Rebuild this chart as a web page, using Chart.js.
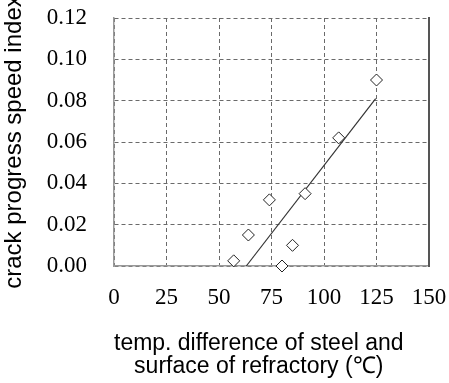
<!DOCTYPE html>
<html>
<head>
<meta charset="utf-8">
<script src="https://cdn.jsdelivr.net/npm/chart.js@4"></script>
<style>
  html, body { margin: 0; padding: 0; background: #fff; }
  #wrap { width: 449px; height: 383px; }
</style>
</head>
<body>
<div id="wrap"><canvas id="c" width="449" height="383"></canvas></div>
<script>
// Measured points (temp. difference °C, crack progress speed index)
const tempDiff = [57, 64, 74, 80, 85, 91, 107, 125];
const crackIndex = [0.0025, 0.015, 0.032, 0.0, 0.010, 0.035, 0.062, 0.090];
// Regression line end points
const trendX = [63, 124.6];
const trendY = [0.0, 0.081];
// Axis ticks
const xTicks = [0, 25, 50, 75, 100, 125, 150];
const yTicks = [0.00, 0.02, 0.04, 0.06, 0.08, 0.10, 0.12];
const xTitle = ['temp. difference of steel and    ', 'surface of refractory (\u2103)    '];
const yTitle = 'crack progress speed index';

const points = tempDiff.map((x, i) => ({ x: x, y: crackIndex[i] }));
const trend = trendX.map((x, i) => ({ x: x, y: trendY[i] }));

const tickFont = { family: "'Liberation Serif', 'Times New Roman', serif", size: 23 };
const titleFont = { family: "'Liberation Sans', Arial, sans-serif", size: 23, lineHeight: 1.0 };
const yTitleFont = { family: "'Liberation Sans', Arial, sans-serif", size: 24, lineHeight: 1.0 };
const gridColor = '#6a6a6a';

function zeroPad(s) { s.paddingTop = 0; s.paddingBottom = 0; s.paddingLeft = 0; s.paddingRight = 0; }

new Chart(document.getElementById('c'), {
  type: 'scatter',
  data: {
    datasets: [
      {
        data: points,
        pointStyle: 'rectRot',
        pointRadius: 6,
        pointBackgroundColor: '#ffffff',
        pointBorderColor: '#222222',
        pointBorderWidth: 1,
        showLine: false,
        clip: false
      },
      {
        type: 'line',
        data: trend,
        borderColor: '#333333',
        borderWidth: 1.2,
        pointRadius: 0,
        fill: false,
        clip: false
      }
    ]
  },
  options: {
    responsive: false,
    animation: false,
    layout: { padding: { top: 18, left: 0, right: 0, bottom: 0 } },
    plugins: { legend: { display: false }, tooltip: { enabled: false } },
    scales: {
      x: {
        type: 'linear',
        min: 0, max: 150,
        afterBuildTicks: (s) => { s.ticks = xTicks.map(v => ({ value: v })); },
        afterFit: (s) => { s.height = 117; zeroPad(s); },
        ticks: { font: tickFont, color: '#000', padding: 18, maxRotation: 0, autoSkip: false },
        grid: { color: gridColor, lineWidth: 1, drawTicks: false, borderDash: [4, 3] },
        border: { display: true, color: '#999999', width: 1.5, dash: [4, 3] },
        title: { display: true, text: xTitle, font: titleFont, color: '#000', padding: { top: 0, bottom: 4.5 } }
      },
      y: {
        type: 'linear',
        min: 0, max: 0.12,
        afterBuildTicks: (s) => { s.ticks = yTicks.map(v => ({ value: v })); },
        afterFit: (s) => { s.width = 114; zeroPad(s); },
        ticks: { font: tickFont, color: '#000', padding: 27, callback: (v) => v.toFixed(2) },
        grid: { color: gridColor, lineWidth: 1, drawTicks: false, borderDash: [4, 3] },
        border: { display: true, color: '#999999', width: 1.5, dash: [4, 3] },
        title: { display: true, text: yTitle, font: yTitleFont, color: '#000', padding: { top: 2, bottom: 0 } }
      },
      y2: {
        type: 'linear',
        position: 'right',
        min: 0, max: 0.12,
        afterFit: (s) => { s.width = 20; zeroPad(s); },
        ticks: { display: false },
        grid: { display: false, drawTicks: false },
        border: { display: true, color: '#555555', width: 2 }
      }
    }
  }
});
</script>
</body>
</html>
